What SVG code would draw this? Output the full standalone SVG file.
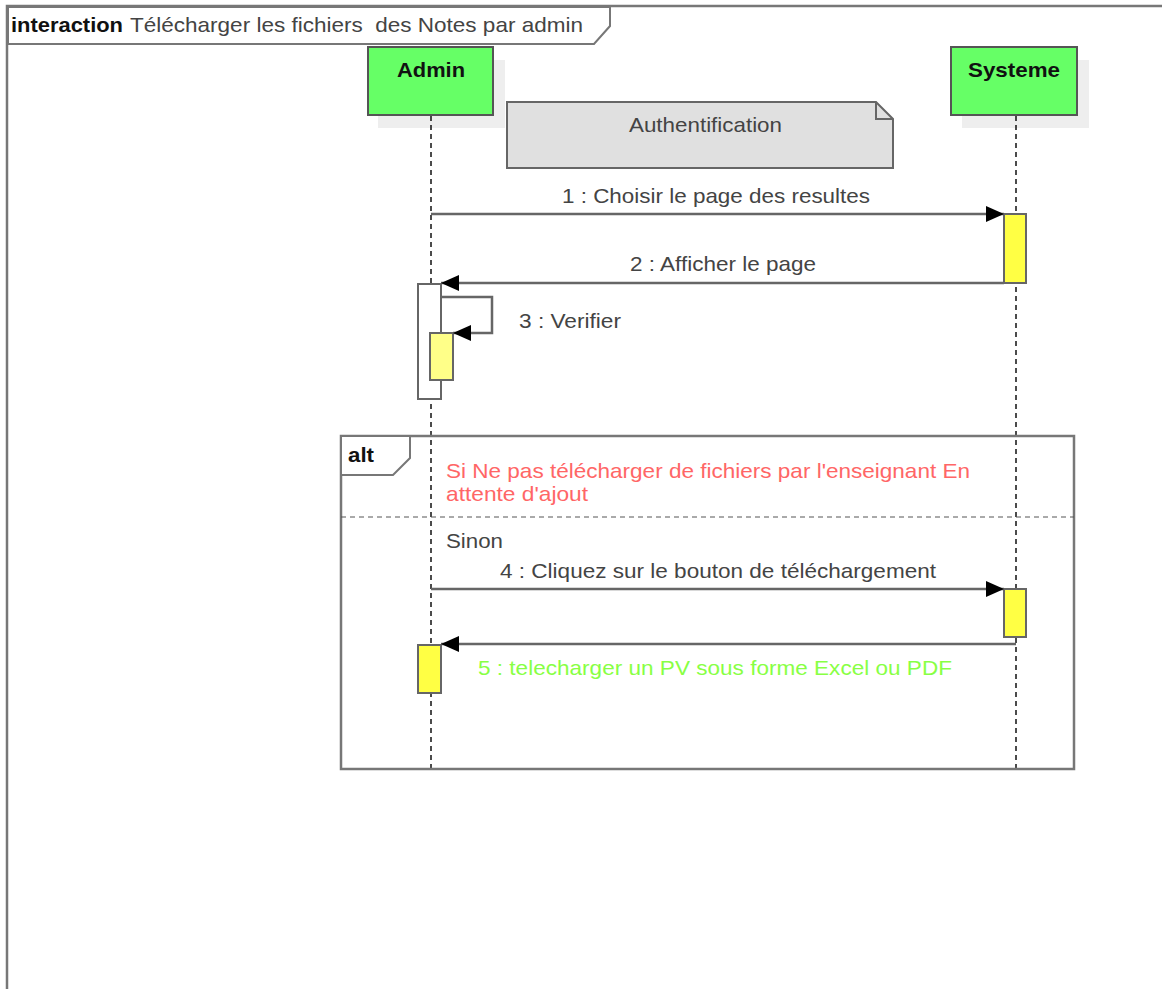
<svg xmlns="http://www.w3.org/2000/svg" width="1162" height="989" viewBox="0 0 1162 989">
<defs>
<style>
text{font-family:"Liberation Sans",Arial,sans-serif;font-size:21px;fill:#444}
.b{font-weight:bold;fill:#111}
.frame{fill:none;stroke:#777;stroke-width:2.5}
.life{stroke:#111;stroke-width:1.5;stroke-dasharray:5,4}
.msg{stroke:#666;stroke-width:2.5;fill:none}
.act{fill:#ffff44;stroke:#666;stroke-width:2}
.actl{fill:#ffff88;stroke:#666;stroke-width:2}
.head{fill:#66ff66;stroke:#555;stroke-width:2}
.shadow{fill:#eeeeee}
</style>
<marker id="ah" markerWidth="20" markerHeight="16" refX="18" refY="8" orient="auto" markerUnits="userSpaceOnUse">
<path d="M0,0 L18,8 L0,16 Z" fill="#000"/>
</marker>
</defs>
<rect width="1162" height="989" fill="#fff"/>
<g id="frame">
<path class="frame" d="M7,989 V6 H1162"/>
<path fill="#fff" stroke="#777" stroke-width="2" d="M8,7 H610 V26 L594,44 H8 Z"/>
<text x="11" y="32" xml:space="preserve"><tspan class="b" textLength="112" lengthAdjust="spacingAndGlyphs">interaction</tspan><tspan x="130" textLength="453" lengthAdjust="spacingAndGlyphs">Télécharger les fichiers  des Notes par admin</tspan></text>
</g>
<g id="admin">
<rect class="shadow" x="378" y="60" width="127" height="68"/>
<rect class="head" x="368" y="47" width="125" height="68"/>
<text class="b" x="397" y="77" textLength="68" lengthAdjust="spacingAndGlyphs">Admin</text>
</g>
<g id="systeme">
<rect class="shadow" x="962" y="60" width="127" height="68"/>
<rect class="head" x="951" y="47" width="126" height="68"/>
<text class="b" x="968" y="77" textLength="92" lengthAdjust="spacingAndGlyphs">Systeme</text>
</g>
<g id="lifelines">
<line class="life" x1="431" y1="116" x2="431" y2="769"/>
<line class="life" x1="1016" y1="116" x2="1016" y2="769"/>
</g>
<g id="note">
<path fill="#e0e0e0" stroke="#666" stroke-width="2" d="M507,102 H876 L893,119 V168 H507 Z"/>
<path fill="none" stroke="#666" stroke-width="2" d="M876,102 V119 H893"/>
<text x="629" y="132" textLength="153" lengthAdjust="spacingAndGlyphs">Authentification</text>
</g>
<g id="alt">
<rect class="frame" x="341" y="436" width="733" height="333"/>
<path fill="#fff" stroke="#777" stroke-width="2" d="M341,436 H410 V458 L393,475 H341 Z"/>
<text class="b" x="348" y="462" textLength="26" lengthAdjust="spacingAndGlyphs">alt</text>
<line x1="341" y1="517" x2="1074" y2="517" stroke="#555" stroke-width="1" stroke-dasharray="5,4"/>
<text x="446" y="478" style="fill:#ff6666" textLength="524" lengthAdjust="spacingAndGlyphs">Si Ne pas télécharger de fichiers par l'enseignant En</text>
<text x="446" y="501" style="fill:#ff6666" textLength="142" lengthAdjust="spacingAndGlyphs">attente d'ajout</text>
<text x="446" y="548" textLength="57" lengthAdjust="spacingAndGlyphs">Sinon</text>
</g>
<g id="activations">
<rect class="act" x="1004" y="214" width="22" height="69"/>
<rect x="418" y="284" width="23" height="115" fill="#fff" stroke="#666" stroke-width="2"/>
<rect class="actl" x="430" y="333" width="23" height="47"/>
<rect class="act" x="1004" y="589" width="22" height="48"/>
<rect class="act" x="418" y="645" width="23" height="48"/>
</g>
<g id="connectors">
<line class="msg" x1="431" y1="214" x2="1004" y2="214" marker-end="url(#ah)"/>
<line class="msg" x1="1004" y1="283" x2="441" y2="283" marker-end="url(#ah)"/>
<path class="msg" d="M441,297 H492 V333 H453" marker-end="url(#ah)"/>
<line class="msg" x1="431" y1="589" x2="1004" y2="589" marker-end="url(#ah)"/>
<line class="msg" x1="1016" y1="644" x2="441" y2="644" marker-end="url(#ah)"/>
</g>
<g id="labels">
<text x="562" y="203" textLength="308" lengthAdjust="spacingAndGlyphs">1 : Choisir le page des resultes</text>
<text x="630" y="271" textLength="186" lengthAdjust="spacingAndGlyphs">2 : Afficher le page</text>
<text x="519" y="328" textLength="102" lengthAdjust="spacingAndGlyphs">3 : Verifier</text>
<text x="500" y="578" textLength="436" lengthAdjust="spacingAndGlyphs">4 : Cliquez sur le bouton de téléchargement</text>
<text x="478" y="675" style="fill:#88ff44" textLength="474" lengthAdjust="spacingAndGlyphs">5 : telecharger un PV sous forme Excel ou PDF</text>
</g>
</svg>
